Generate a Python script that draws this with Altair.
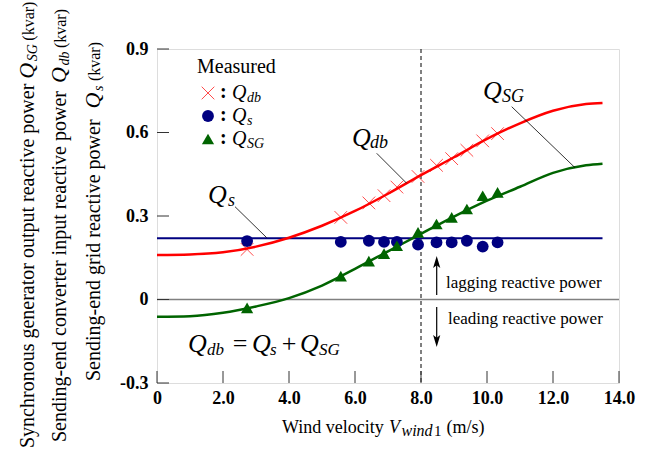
import altair as alt
import pandas as pd

# ---------------- data ----------------
wind_meas = [2.73, 5.57, 6.42, 6.88, 7.27, 7.91, 8.47, 8.93, 9.39, 9.87, 10.32]
qdb_meas = [0.180, 0.295, 0.347, 0.373, 0.404, 0.442, 0.482, 0.506, 0.536, 0.570, 0.596]
qs_meas = [0.210, 0.207, 0.211, 0.207, 0.207, 0.197, 0.205, 0.205, 0.211, 0.190, 0.205]
qsg_meas = [-0.030, 0.084, 0.138, 0.165, 0.193, 0.241, 0.271, 0.295, 0.325, 0.373, 0.385]

wind_curve = [0, 1, 2, 3, 4, 5, 6, 7, 8, 9, 10, 11, 12, 13, 13.5]
qdb_curve = [0.160, 0.162, 0.170, 0.190, 0.222, 0.265, 0.318, 0.380, 0.447, 0.511, 0.577, 0.633, 0.678, 0.702, 0.706]
qsg_curve = [-0.062, -0.060, -0.048, -0.025, 0.005, 0.050, 0.110, 0.173, 0.236, 0.298, 0.355, 0.405, 0.455, 0.482, 0.488]

qs_line_x = [0, 13.5]
qs_line_y = [0.22, 0.22]

x_ticks = [0, 2, 4, 6, 8, 10, 12, 14]
y_ticks = [-0.3, 0, 0.3, 0.6, 0.9]
x_tick_labels = ["0", "2.0", "4.0", "6.0", "8.0", "10.0", "12.0", "14.0"]
y_tick_labels = ["-0.3", "0", "0.3", "0.6", "0.9"]

FONT = "Liberation Serif"
RED = "#ff0000"
GREEN = "#006400"
NAVY = "#000080"
W, H = 462, 334

meas = pd.DataFrame({"v": wind_meas, "qdb": qdb_meas, "qs": qs_meas, "qsg": qsg_meas})
curve = pd.DataFrame({"v": wind_curve, "qdb": qdb_curve, "qsg": qsg_curve})
qsline = pd.DataFrame({"v": qs_line_x, "q": qs_line_y})

xs = alt.Scale(domain=[0, 14], nice=False, zero=False)
ys = alt.Scale(domain=[-0.3, 0.9], nice=False, zero=False)

def lab_expr(vals, labs):
    parts = " : ".join(f"datum.value == {v} ? '{l}'" for v, l in zip(vals, labs))
    return parts + " : ''"

xaxis = alt.Axis(values=x_ticks, labelExpr=lab_expr(x_ticks, x_tick_labels), ticks=False, domain=False,
                 grid=False, labelFont=FONT, labelFontWeight="bold", labelFontSize=18, labelColor="black",
                 labelPadding=6, labelOverlap=False, labelFlush=False, title=None)
yaxis = alt.Axis(values=y_ticks, labelExpr=lab_expr(y_ticks, y_tick_labels), ticks=False, domain=False,
                 grid=False, labelFont=FONT, labelFontWeight="bold", labelFontSize=18, labelColor="black",
                 labelPadding=9, labelOverlap=False, labelFlush=False, title=None)

base = alt.Chart(curve)
red_curve = base.mark_line(color=RED, strokeWidth=2.5, interpolate="monotone").encode(
    x=alt.X("v:Q", scale=xs, axis=xaxis), y=alt.Y("qdb:Q", scale=ys, axis=yaxis))
green_curve = base.mark_line(color=GREEN, strokeWidth=2.5, interpolate="monotone").encode(
    x=alt.X("v:Q", scale=xs), y=alt.Y("qsg:Q", scale=ys))
blue_line = alt.Chart(qsline).mark_line(color=NAVY, strokeWidth=2).encode(
    x=alt.X("v:Q", scale=xs), y=alt.Y("q:Q", scale=ys))

zero_line = alt.Chart(pd.DataFrame({"y": [0]})).mark_rule(color="#808080", strokeWidth=1.5).encode(
    y=alt.Y("y:Q", scale=ys), x=alt.value(0), x2=alt.value(W))
dash_line = alt.Chart(pd.DataFrame({"x": [8]})).mark_rule(color="black", strokeWidth=1, strokeDash=[4, 3]).encode(
    x=alt.X("x:Q", scale=xs), y=alt.value(0), y2=alt.value(H))

yt = alt.Chart(pd.DataFrame({"y": y_ticks})).mark_rule(color="#333333", strokeWidth=1).encode(
    y=alt.Y("y:Q", scale=ys), x=alt.value(0), x2=alt.value(12))
xt = alt.Chart(pd.DataFrame({"x": x_ticks})).mark_rule(color="#333333", strokeWidth=1).encode(
    x=alt.X("x:Q", scale=xs), y=alt.value(H), y2=alt.value(H - 12))

CROSS = "M-1,-1L1,1M1,-1L-1,1"
crosses = alt.Chart(meas).mark_point(shape=CROSS, filled=False, stroke=RED, strokeWidth=1, size=160).encode(
    x=alt.X("v:Q", scale=xs), y=alt.Y("qdb:Q", scale=ys))
dots = alt.Chart(meas).mark_point(shape="circle", filled=True, color=NAVY, opacity=1, size=140).encode(
    x=alt.X("v:Q", scale=xs), y=alt.Y("qs:Q", scale=ys))
tris = alt.Chart(meas).mark_point(shape="triangle-up", filled=True, color=GREEN, opacity=1, size=150).encode(
    x=alt.X("v:Q", scale=xs), y=alt.Y("qsg:Q", scale=ys))

# legend markers (pixel positions in plot area)
lg = pd.DataFrame({"px": [51, 51, 51], "py": [44, 67, 90], "k": ["x", "o", "t"]})
lg_x = alt.Chart(lg[lg.k == "x"]).mark_point(shape=CROSS, filled=False, stroke=RED, strokeWidth=1, size=160).encode(
    x=alt.X("px:Q", scale=None), y=alt.Y("py:Q", scale=None))
lg_o = alt.Chart(lg[lg.k == "o"]).mark_point(shape="circle", filled=True, color=NAVY, opacity=1, size=140).encode(
    x=alt.X("px:Q", scale=None), y=alt.Y("py:Q", scale=None))
lg_t = alt.Chart(lg[lg.k == "t"]).mark_point(shape="triangle-up", filled=True, color=GREEN, opacity=1, size=150).encode(
    x=alt.X("px:Q", scale=None), y=alt.Y("py:Q", scale=None))

# leader lines
leaders = pd.DataFrame({"x": [219.7, 78, 354.7], "y": [104.3, 157.7, 57.7],
                        "x2": [249.7, 109.7, 418], "y2": [134.3, 188.7, 118.7]})
leader = alt.Chart(leaders).mark_rule(color="black", strokeWidth=0.8).encode(
    x=alt.X("x:Q", scale=None), y=alt.Y("y:Q", scale=None), x2="x2:Q", y2="y2:Q")

# arrows
shafts = pd.DataFrame({"x": [279.7, 279.7], "y": [246, 258], "y2": [212, 293]})
shaft = alt.Chart(shafts).mark_rule(color="black", strokeWidth=1.2).encode(
    x=alt.X("x:Q", scale=None), y=alt.Y("y:Q", scale=None), y2="y2:Q")
HEAD = "M0,-1L0.45,0.5L0,0.15L-0.45,0.5Z"
heads = pd.DataFrame({"x": [279.7, 279.7], "y": [215, 290], "a": [0, 180]})
head = alt.Chart(heads).mark_point(shape=HEAD, filled=True, color="black", opacity=1, size=256).encode(
    x=alt.X("x:Q", scale=None), y=alt.Y("y:Q", scale=None), angle=alt.Angle("a:Q", scale=None))

# ---- approximate Times metrics for chaining rich-text segments ----
REG = {" ": 250, "(": 333, ")": 333, "-": 333, "/": 278, ".": 250, ":": 278, "=": 564, "+": 564,
       "S": 556, "G": 722, "Q": 722, "V": 722, "W": 944, "M": 889,
       "a": 444, "b": 500, "c": 444, "d": 500, "e": 444, "g": 500, "h": 500, "i": 278, "k": 500,
       "l": 278, "m": 778, "n": 500, "o": 500, "p": 500, "r": 333, "s": 389, "t": 278, "u": 500,
       "v": 500, "w": 722, "y": 500, "1": 500}
ITA = {"Q": 722, "S": 500, "G": 722, "V": 611, "d": 500, "b": 500, "s": 389, "w": 667, "i": 278, "n": 500}

def width(t, size, italic):
    tab = ITA if italic else REG
    return sum(tab.get(c, REG.get(c, 500)) for c in t) * size / 1000.0

def chain_rot(segs, bx, y_start, gaps):
    """segs: list of (text, size, italic, dx). Text runs upward from y_start (plot coords)."""
    out, y = [], y_start
    for (t, s, it, dx), g in zip(segs, gaps):
        y -= g
        out.append((t, bx + dx, y, s, "italic" if it else "normal", "normal", 270, "left"))
        y -= width(t, s, it) + (1.5 if it else 0)
    return out

def chain_h(segs, x_start, base_y, gaps):
    out, x = [], x_start
    for (t, s, it, dy), g in zip(segs, gaps):
        x += g
        out.append((t, x, base_y + dy, s, "italic" if it else "normal", "normal", 0, "left"))
        x += width(t, s, it) + (1.5 if it else 0)
    return out

texts = []
# y-axis titles (rotated); plot origin is at (157, 49) of the page
texts += chain_rot([("Synchronous generator output reactive power", 20, False, 0), ("Q", 22, True, 0),
                    ("SG", 14, True, 3), ("(kvar)", 16, False, 0)], -123, 448 - 49, [0, 5, 0, 2])
texts += chain_rot([("Sending-end converter input reactive power", 20, False, 0), ("Q", 22, True, 0),
                    ("db", 14, True, 3), ("(kvar)", 16, False, 0)], -91, 442 - 49, [0, 8, 0, 2])
texts += chain_rot([("Sending-end grid reactive power", 20, False, 0), ("Q", 22, True, 0),
                    ("s", 14, True, 3), ("(kvar)", 16, False, 0)], -57, 381 - 49, [0, 11, 0, 3])
# x title
texts += chain_h([("Wind velocity", 18, False, 0), ("V", 18, True, 0), ("wind", 16, True, 3),
                  ("1", 15, False, 3), ("(m/s)", 18, False, 0)], 125, 384, [0, 4.5, 0, 0, 5])

texts += [
    # legend
    ("Measured", 40, 24, 20, "normal", "normal", 0, "left"),
    (":", 63, 49, 20, "normal", "bold", 0, "left"),
    (":", 63, 72, 20, "normal", "bold", 0, "left"),
    (":", 63, 95, 20, "normal", "bold", 0, "left"),
    ("Q", 75, 50, 20, "italic", "normal", 0, "left"),
    ("db", 90, 53, 14, "italic", "normal", 0, "left"),
    ("Q", 75, 73, 20, "italic", "normal", 0, "left"),
    ("s", 90, 76, 14, "italic", "normal", 0, "left"),
    ("Q", 75, 96, 20, "italic", "normal", 0, "left"),
    ("SG", 90, 99, 14, "italic", "normal", 0, "left"),
    # big labels
    ("Q", 195, 97, 26, "italic", "normal", 0, "left"),
    ("db", 213, 99, 18, "italic", "normal", 0, "left"),
    ("Q", 51, 154, 26, "italic", "normal", 0, "left"),
    ("s", 71, 157, 18, "italic", "normal", 0, "left"),
    ("Q", 326, 50, 26, "italic", "normal", 0, "left"),
    ("SG", 345, 53, 18, "italic", "normal", 0, "left"),
    # equation
    ("Q", 31, 303, 26, "italic", "normal", 0, "left"),
    ("db", 50, 306, 17, "italic", "normal", 0, "left"),
    ("=", 83, 303, 26, "normal", "normal", 0, "center"),
    ("Q", 95, 303, 26, "italic", "normal", 0, "left"),
    ("s", 113, 306, 17, "italic", "normal", 0, "left"),
    ("+", 132, 303, 26, "normal", "normal", 0, "center"),
    ("Q", 143, 303, 26, "italic", "normal", 0, "left"),
    ("SG", 162, 306, 17, "italic", "normal", 0, "left"),
    # lagging / leading
    ("lagging reactive power", 289, 239, 17, "normal", "normal", 0, "left"),
    ("leading reactive power", 291, 275, 17, "normal", "normal", 0, "left"),
]
tdf = pd.DataFrame(texts, columns=["t", "x", "y", "s", "st", "wt", "a", "al"])

text_layers = []
for (st, wt, a, al), g in tdf.groupby(["st", "wt", "a", "al"]):
    text_layers.append(
        alt.Chart(g).mark_text(font=FONT, fontStyle=st, fontWeight=wt, angle=int(a), align=al,
                               baseline="alphabetic", color="black").encode(
            x=alt.X("x:Q", scale=None), y=alt.Y("y:Q", scale=None),
            text="t:N", size=alt.Size("s:Q", scale=None, legend=None))
    )

chart = alt.layer(
    zero_line, dash_line, yt, xt, blue_line, red_curve, green_curve,
    crosses, dots, tris, lg_x, lg_o, lg_t, leader, shaft, head, *text_layers
).properties(
    width=W, height=H,
    autosize=alt.AutoSizeParams(type="none"),
    padding={"left": 157, "top": 49, "right": 35, "bottom": 67},
).configure_view(stroke="black", strokeWidth=1.2).configure(background="white")

chart.save("out.html", embed_options={"renderer": "svg", "actions": False})
